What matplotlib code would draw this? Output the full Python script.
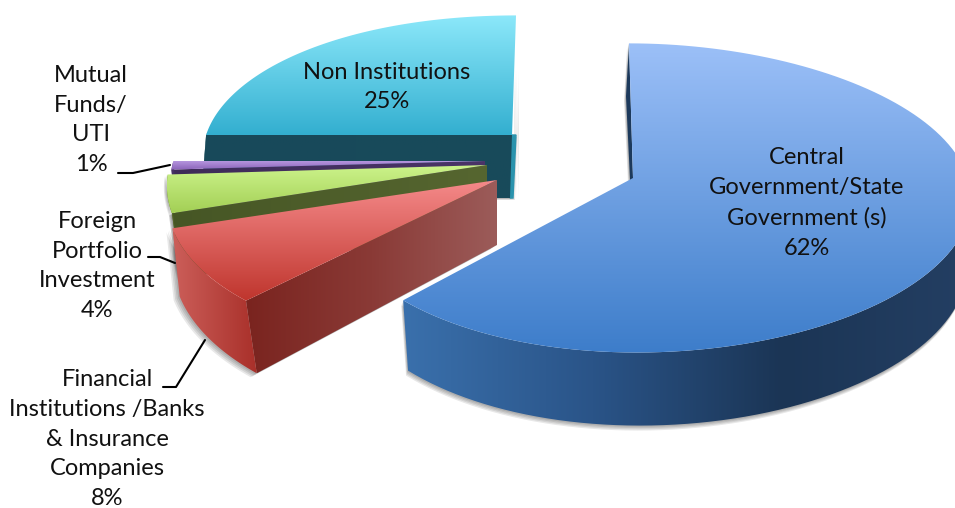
from matplotlib import pyplot as plt
from matplotlib.colors import LinearSegmentedColormap
from matplotlib.patches import Polygon
import numpy as np

# shareholding pattern
categories = ["Central\nGovernment/State\nGovernment (s)",
              "Financial\nInstitutions /Banks\n& Insurance\nCompanies",
              "Foreign\nPortfolio\nInvestment",
              "Mutual\nFunds/\nUTI",
              "Non Institutions"]
shares = [62, 8, 4, 1, 25]

top_colors = [["#9cc0f8", "#3d7dca"], ["#f58a8a", "#bf352d"], ["#cdf48c", "#a3cf55"],
              ["#b595de", "#8a62b8"], ["#8ce8fa", "#33afd0"]]
side_colors = [["#3a70ac", "#2a5488", "#1b3555", "#243f63"], ["#cc5f5a", "#a9302a"],
               ["#5e7030", "#4a5a26"], ["#4a3468", "#3c2a58"], ["#174a58", "#184b5a"]]
cut_colors = [["#1d3a5c", "#1d3a5c"], ["#7a241f", "#8a3a36", "#9c5c5a"], ["#465625", "#566630"],
              ["#3e2b58", "#4a3468"], ["#18495a", "#184b5b"]]

# apex x, apex y, half width, half height, shear, depth
geometry = [(633, 178, 319, 152, -4, 63),
            (497, 180, 344, 150, 0, 65),
            (487, 165, 334, 150, 0, 62),
            (485, 161, 328, 135, 0, 62),
            (512, 135, 322, 135, 4, 63)]
# wall lean: constant, with u, with v
leans = [(0, -4, -3), (0, -4, -11), (0, -8, -5), (0, -6, 0), (-2, 3, 0)]
shadow_offsets = [(-2, 5), (-6, 4), (-3, 2), (0, 0), (5, 2)]
draw_order = [4, 3, 2, 1, 0]

label_pos = [(807, 203), (107, 439), (97, 266), (91, 120), (387, 87)]
leader_x = [[118, 133, 170], [148, 160, 175], [163, 176, 205]]
leader_y = [[173, 173, 165], [257, 257, 263], [387, 387, 340]]

K = 0.129
S = 0.05


def surface(g, u, v):
    w = 1 + K*v
    x = g[0] + g[2]*u*(1 + S*u)/w + g[4]*v
    y = g[1] - g[3]*v/w
    return x, y


def wall_drop(g, lean, u, v):
    x, y = surface(g, u, v)
    return x + lean[0] + lean[1]*u + lean[2]*v, y + g[5]*(1 - 0.16*v)


def gradient_fill(ax, xs, ys, stops, vertical=True, zorder=2):
    cmap = LinearSegmentedColormap.from_list("fill", stops)
    ramp = np.linspace(0, 1, 256)
    img = ramp.reshape(-1, 1) if vertical else ramp.reshape(1, -1)
    im = ax.imshow(img, cmap=cmap, aspect='auto', zorder=zorder, interpolation='bilinear',
                   extent=(min(xs), max(xs), max(ys), min(ys)), origin='upper')
    patch = Polygon(np.column_stack((xs, ys)), closed=True, transform=ax.transData,
                    facecolor='none', edgecolor='none')
    ax.add_patch(patch)
    im.set_clip_path(patch)


def shadow(ax, xs, ys, offset, zorder):
    if offset == (0, 0):
        return
    for i in range(4):
        f = (i + 1)/4
        ax.fill(np.array(xs) + offset[0]*f, np.array(ys) + offset[1]*f, facecolor='k',
                edgecolor='none', alpha=0.09, zorder=zorder)


def draw_slice(ax, i, start, stop, zorder):
    g = geometry[i]
    lean = leans[i]

    t = np.radians(np.linspace(start, stop, 120))
    u, v = np.sin(t), np.cos(t)

    # top face outline: apex then the arc
    tx, ty = surface(g, u, v)
    top_x = np.concatenate(([g[0]], tx))
    top_y = np.concatenate(([g[1]], ty))

    # rim wall, only the part turned towards the front
    mask = v <= 0.02
    rx, ry = surface(g, u[mask], v[mask])
    bx, by = wall_drop(g, lean, u[mask], v[mask])
    rim_x = np.concatenate((rx, bx[::-1]))
    rim_y = np.concatenate((ry, by[::-1]))

    # cut wall on the start edge
    ex, ey = surface(g, u[0], v[0])
    ax_b, ay_b = wall_drop(g, lean, 0, 0)
    ex_b, ey_b = wall_drop(g, lean, u[0], v[0])
    cut_x = [g[0], ex, ex_b, ax_b]
    cut_y = [g[1], ey, ey_b, ay_b]

    shadow(ax, rim_x, rim_y, shadow_offsets[i], zorder)
    shadow(ax, cut_x, cut_y, shadow_offsets[i], zorder)

    # non institutions: narrow strip of the far cut wall shows on its right
    if i == 4:
        fx_b, fy_b = wall_drop(g, lean, u[-1], v[-1])
        shadow(ax, [g[0] + 2, fx_b - 1, ax_b + 3], [g[1], fy_b, ay_b], shadow_offsets[i], zorder)
        strip_x = [g[0], g[0] + 4, ax_b + 3, ax_b]
        strip_y = [g[1], g[1], ay_b, ay_b]
        ax.fill(strip_x, strip_y, color="#2a93ad", zorder=zorder + 0.05)

    gradient_fill(ax, cut_x, cut_y, cut_colors[i] if ex < g[0] else cut_colors[i][::-1],
                  vertical=False, zorder=zorder + 0.1)
    gradient_fill(ax, rim_x, rim_y, side_colors[i], vertical=False, zorder=zorder + 0.2)
    gradient_fill(ax, top_x, top_y, top_colors[i], vertical=True, zorder=zorder + 0.3)


fig = plt.figure(figsize=(9.55, 5.08), dpi=100)
ax = fig.add_axes([0, 0, 1, 1])
ax.axis('off')

edges = np.concatenate(([0], np.cumsum(shares))) * 3.6
for rank, i in enumerate(draw_order):
    draw_slice(ax, i, edges[i], edges[i + 1], 2 + rank)

for lx, ly in zip(leader_x, leader_y):
    ax.plot(lx, ly, color='k', lw=1.5, zorder=12, solid_capstyle='round')

for name, share, pos in zip(categories, shares, label_pos):
    ax.text(pos[0], pos[1], f"{name}\n{share}%", ha='center', va='center', family='Lato',
            fontsize=17, linespacing=1.52, color='#111111', zorder=13)

ax.set_xlim(0, 955)
ax.set_ylim(508, 0)
fig.savefig('out.png', dpi=100, facecolor='white')
